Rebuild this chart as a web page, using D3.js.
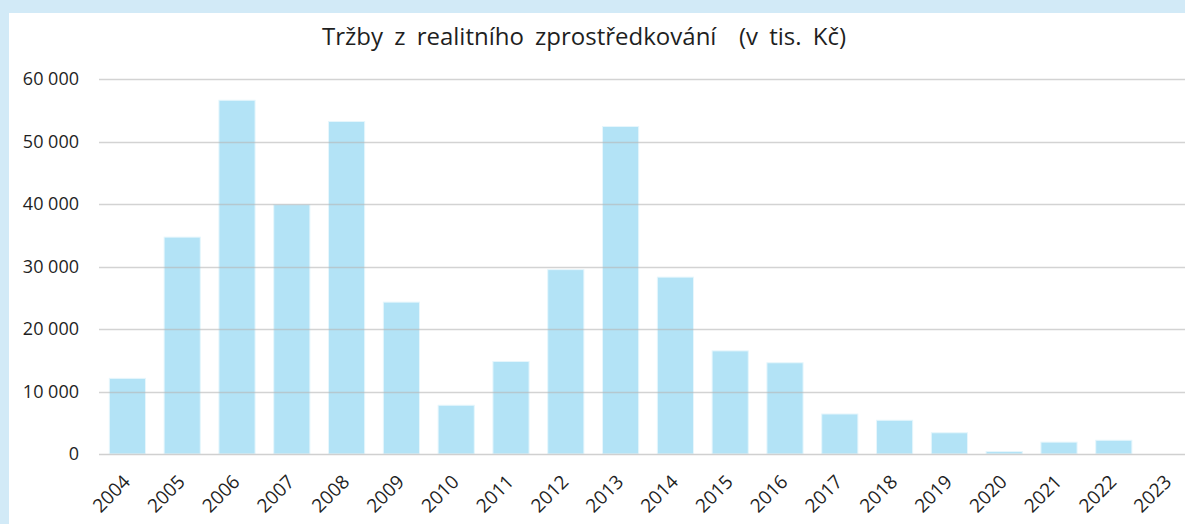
<!DOCTYPE html>
<html>
<head>
<meta charset="utf-8">
<script src="https://cdn.jsdelivr.net/npm/d3@7"></script>
<style>
  html, body { margin: 0; padding: 0; background: #d2eaf7; }
  svg { display: block; }
  .ttl { font-family: "Open Sans", sans-serif; font-size: 24px; fill: #1f1f1f; word-spacing: 5px; }
  .tick-y text { font-family: "Open Sans", sans-serif; font-size: 18px; fill: #1f1f1f; }
  .tick-x text { font-family: "Open Sans", sans-serif; font-size: 19px; fill: #1f1f1f; }
</style>
</head>
<body>
<svg id="chart"></svg>
<script>
// ── data ─────────────────────────────
const years = ['2004','2005','2006','2007','2008','2009','2010','2011','2012','2013',
               '2014','2015','2016','2017','2018','2019','2020','2021','2022','2023'];
const revenue = [12100, 34700, 56600, 39900, 53200, 24300, 7800, 14800, 29500, 52400,
                 28300, 16500, 14600, 6400, 5400, 3400, 400, 1900, 2200, 0];
const yTicks = [0, 10000, 20000, 30000, 40000, 50000, 60000];
const titleText = 'Tržby z realitního zprostředkování  (v tis. Kč)';

// ── layout ───────────────────────────
const W = 1185, H = 524;
const panel = { x: 9, y: 13 };
const plot = { left: 100, right: 1196, top: 79, bottom: 454 };

const svg = d3.select('#chart').attr('width', W).attr('height', H);

// white panel inside the light-blue frame
svg.append('rect')
  .attr('x', panel.x).attr('y', panel.y)
  .attr('width', W - panel.x).attr('height', H - panel.y)
  .attr('fill', '#ffffff');

const x = d3.scaleBand().domain(years).range([plot.left, plot.right]).paddingInner(0.34).paddingOuter(0.17);
const y = d3.scaleLinear().domain([0, 60000]).range([plot.bottom, plot.top]);

const fmt = v => d3.format(',')(v).replace(/,/g, ' ');

// title
svg.append('text').attr('class', 'ttl')
  .attr('x', 584).attr('y', 45)
  .attr('text-anchor', 'middle')
  .style('white-space', 'pre')
  .text(titleText);

// bars
svg.append('g').selectAll('rect').data(years).enter().append('rect')
  .attr('x', d => x(d))
  .attr('y', (d, i) => y(revenue[i]))
  .attr('width', x.bandwidth())
  .attr('height', (d, i) => plot.bottom - y(revenue[i]))
  .attr('fill', '#b3e3f6')
  .attr('stroke', '#e6f6fc').attr('stroke-width', 1);

// gridlines (drawn over the bars, as in the original)
const gy = svg.append('g').attr('class', 'tick-y');
gy.selectAll('line').data(yTicks).enter().append('line')
  .attr('x1', plot.left - 1).attr('x2', W)
  .attr('y1', d => Math.round(y(d)) + 0.5).attr('y2', d => Math.round(y(d)) + 0.5)
  .attr('stroke', d => d === 0 ? '#d0d0d0' : '#b5b5b5')
  .attr('stroke-opacity', d => d === 0 ? 1 : 0.6)
  .attr('stroke-width', 1.5);
gy.selectAll('text').data(yTicks).enter().append('text')
  .attr('x', 79).attr('y', d => y(d) + 6)
  .attr('text-anchor', 'end')
  .text(fmt);

// x labels, rotated
const gx = svg.append('g').attr('class', 'tick-x');
gx.selectAll('text').data(years).enter().append('text')
  .attr('transform', d => `translate(${x(d) + x.bandwidth() / 2 + 4},${plot.bottom + 29}) rotate(-45)`)
  .attr('text-anchor', 'end')
  .text(d => d);
</script>
</body>
</html>
